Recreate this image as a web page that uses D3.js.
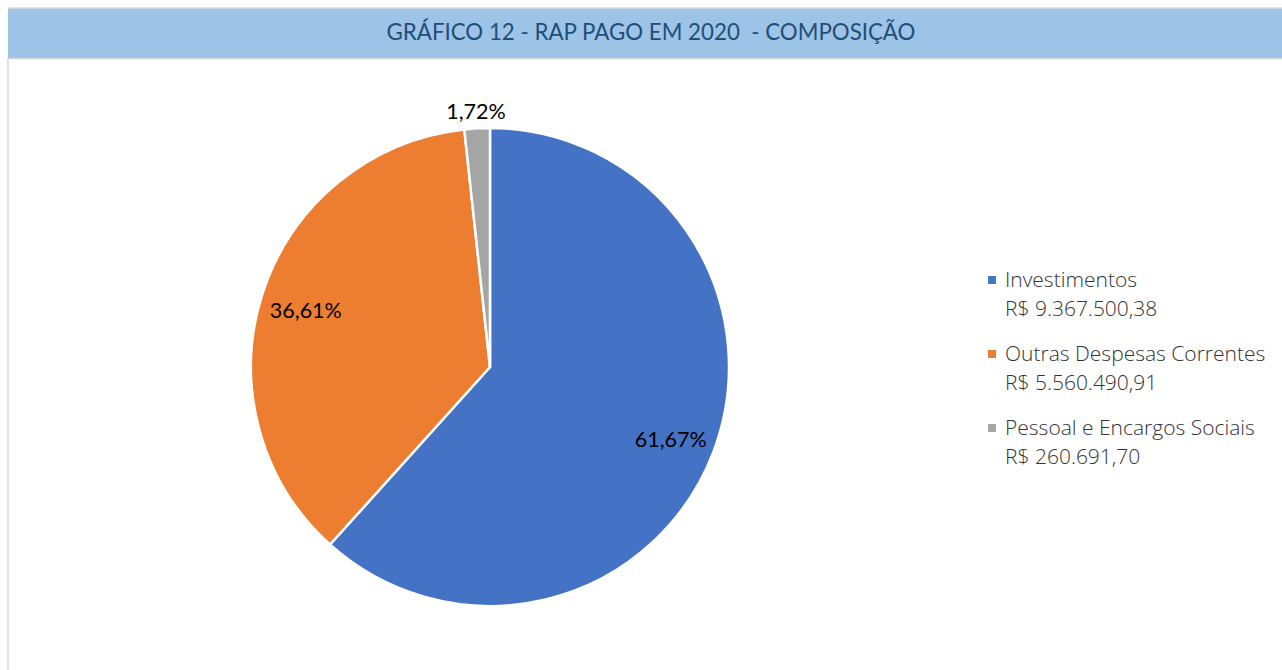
<!DOCTYPE html>
<html>
<head>
<meta charset="utf-8">
<script src="https://cdn.jsdelivr.net/npm/d3@7"></script>
<style>
  body { margin: 0; background: #fff; }
  svg text { font-family: Lato, "Open Sans", sans-serif; }
  svg text.leg { font-family: "Open Sans", Lato, sans-serif; }
</style>
</head>
<body>
<div id="container"></div>
<script>
// data
const categories = ["Investimentos", "Outras Despesas Correntes", "Pessoal e Encargos Sociais"];
const values = [9367500.38, 5560490.91, 260691.70];
const valueLabels = ["R$ 9.367.500,38", "R$ 5.560.490,91", "R$ 260.691,70"];
const colors = ["#4472C4", "#ED7D31", "#A5A5A5"];
const title = "GRÁFICO 12 - RAP PAGO EM 2020  - COMPOSIÇÃO";

const width = 1282, height = 670;
const cx = 490, cy = 367, radius = 239;

const svg = d3
  .select("#container")
  .append("svg")
  .attr("width", width)
  .attr("height", height);

// title band
svg.append("rect")
  .attr("x", 8).attr("y", 8)
  .attr("width", width - 8).attr("height", 50)
  .attr("fill", "#9DC3E6");
svg.append("line")
  .attr("x1", 8).attr("x2", width).attr("y1", 8).attr("y2", 8)
  .attr("stroke", "#dcdcdc").attr("stroke-width", 1.5);
svg.append("line")
  .attr("x1", 8).attr("x2", width).attr("y1", 58.5).attr("y2", 58.5)
  .attr("stroke", "#d4d4d4").attr("stroke-width", 1.5);
// left border of the chart box
svg.append("line")
  .attr("x1", 8).attr("x2", 8).attr("y1", 58).attr("y2", height)
  .attr("stroke", "#d9d9d9").attr("stroke-width", 1.5);

svg.append("text")
  .attr("x", 651).attr("y", 34)
  .attr("text-anchor", "middle")
  .attr("dominant-baseline", "middle")
  .attr("fill", "#1F4E79")
  .attr("font-size", 22.3)
  .style("white-space", "pre")
  .text(title);

// pie
const total = d3.sum(values);
const pie = d3.pie().sort(null).value((d) => d);
const arcs = pie(values);

const arc = d3.arc().innerRadius(0).outerRadius(radius);
const g = svg.append("g").attr("transform", `translate(${cx},${cy})`);

g.selectAll("path")
  .data(arcs)
  .join("path")
  .attr("d", arc)
  .attr("fill", (d, i) => colors[i])
  .attr("stroke", "#fff")
  .attr("stroke-width", 2.5)
  .attr("stroke-linejoin", "round");

// data labels - inside for big slices, outside for the tiny one
const fmt = (v) => (v / total * 100).toFixed(2).replace(".", ",") + "%";
g.selectAll("text.lbl")
  .data(arcs)
  .join("text")
  .attr("class", "lbl")
  .each(function (d) {
    const share = d.value / total;
    const r = share > 0.05 ? radius * 0.81 : radius * 1.085;
    const a = (d.startAngle + d.endAngle) / 2;
    d3.select(this)
      .attr("x", Math.sin(a) * r)
      .attr("y", -Math.cos(a) * r + 5);
  })
  .attr("text-anchor", "middle")
  .attr("dominant-baseline", "middle")
  .attr("font-size", 21.5)
  .attr("fill", "#000")
  .text((d) => fmt(d.value));

// legend
const legend = svg.append("g").attr("transform", "translate(988,287)");
const item = legend.selectAll("g")
  .data(categories)
  .join("g")
  .attr("transform", (d, i) => `translate(0,${i * 74})`);

item.append("rect")
  .attr("x", 0).attr("y", -11)
  .attr("width", 8).attr("height", 8)
  .attr("fill", (d, i) => colors[i]);
item.append("text")
  .attr("class", "leg")
  .attr("x", 17).attr("y", 0)
  .attr("font-size", 21)
  .attr("fill", "#333")
  .style("font-weight", 300)
  .text((d) => d);
item.append("text")
  .attr("class", "leg")
  .attr("x", 17).attr("y", 29)
  .attr("font-size", 21)
  .attr("fill", "#333")
  .style("font-weight", 300)
  .text((d, i) => valueLabels[i]);
</script>
</body>
</html>
